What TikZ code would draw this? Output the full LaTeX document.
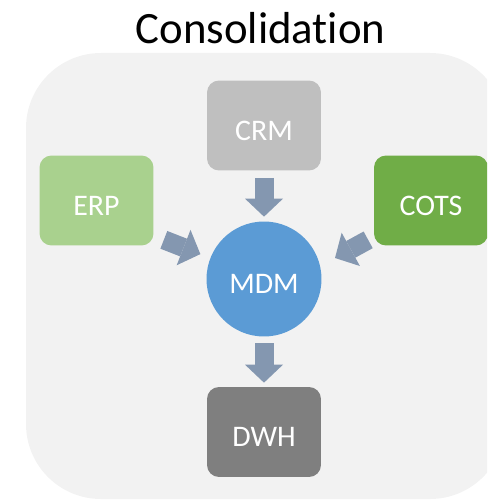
\documentclass[tikz,border=0pt]{standalone}
\usepackage{fontspec}
\setmainfont{Carlito}[Ligatures=NoCommon]
\usetikzlibrary{arrows.meta}

\definecolor{panelgray}{HTML}{F2F2F2}
\definecolor{crmgray}{HTML}{BFBFBF}
\definecolor{erpgreen}{HTML}{A9D18E}
\definecolor{cotsgreen}{HTML}{70AD47}
\definecolor{mdmblue}{HTML}{5B9BD5}
\definecolor{dwhgray}{HTML}{7F7F7F}
\definecolor{flowblue}{HTML}{8497B0}

\tikzstyle{panel} = [fill=panelgray, rounded corners=1.5cm]
\tikzstyle{sys} = [rectangle, rounded corners=0.24cm, minimum width=2.28cm, minimum height=1.8cm, inner sep=0pt, text=white, text height=0.59cm, text depth=0pt, font=\fontsize{17}{20}\selectfont]
\tikzstyle{hub} = [circle, fill=mdmblue, minimum size=2.3cm, inner sep=0pt, text=white, text height=0.59cm, text depth=0pt, font=\fontsize{17}{20}\selectfont]
\tikzstyle{flow} = [draw=flowblue, line width=0.38cm, -{Triangle[width=0.76cm,length=0.36cm,line width=0pt]}]

\begin{document}
\begin{tikzpicture}[x=0.02cm,y=-0.02cm]
	\clip (0,0) rectangle (487,500);
	\path[panel] (26,53) rectangle (505,499);
	\node (title) at (260.5,44) [anchor=base, font=\fontsize{25.5}{30}\selectfont] {Consolidation};
	\node (crm) at (264,125.5) [sys, fill=crmgray] {CRM};
	\node (erp) at (96.5,200.5) [sys, fill=erpgreen] {ERP};
	\node (cots) at (431,200.5) [sys, fill=cotsgreen] {COTS};
	\node (mdm) at (264,279) [hub] {MDM};
	\node (dwh) at (264,432) [sys, fill=dwhgray] {DWH};
	\coordinate (erpout) at ([shift={(10,-6)}]erp.south east);
	\coordinate (cotsout) at ([shift={(-5.5,-6)}]cots.south west);
	\coordinate (cotsin) at ([shift={(71,-21)}]mdm.center);
	\path[flow, shorten <=0.14cm, shorten >=0.09cm] (crm) -- (mdm);
	\path[flow, shorten <=0.13cm, shorten >=0.08cm] (mdm) -- (dwh);
	\path[flow, shorten >=0.21cm] (erpout) -- (mdm);
	\path[flow] (cotsout) -- (cotsin);
\end{tikzpicture}
\end{document}
